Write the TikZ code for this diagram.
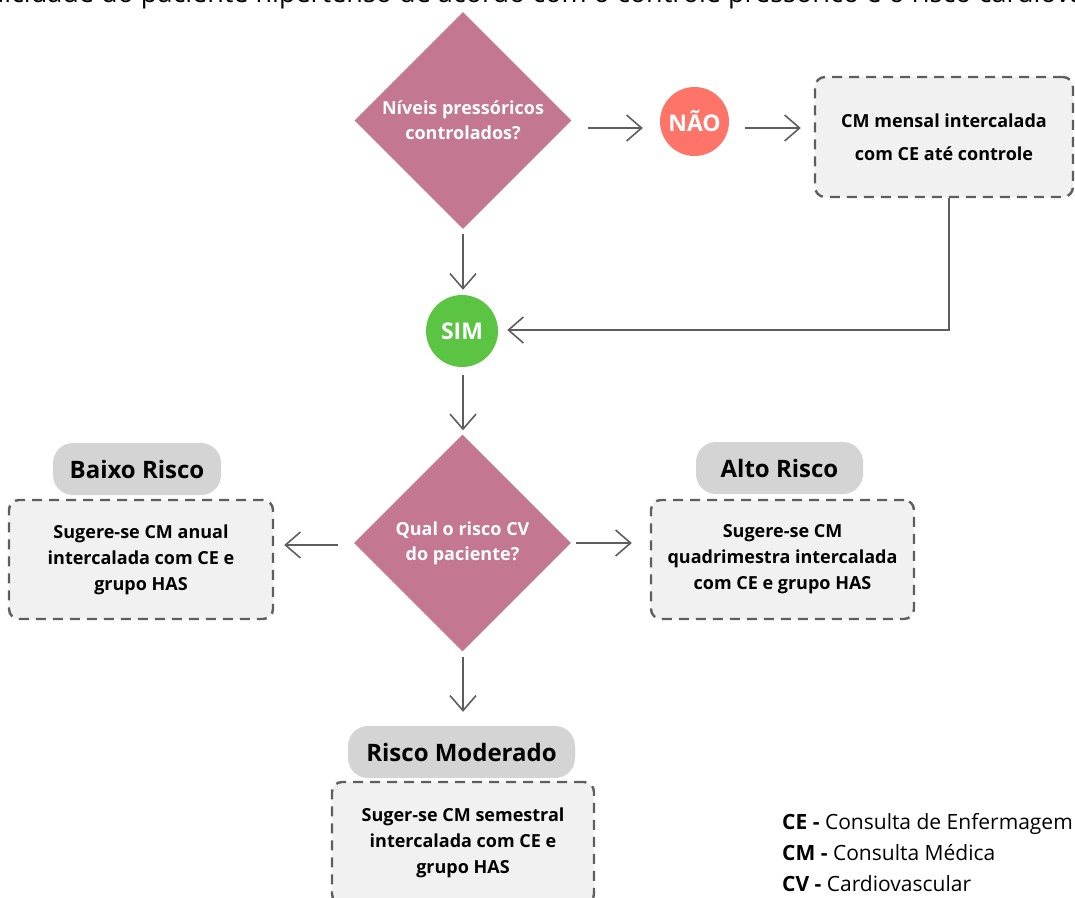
\documentclass[tikz,border=0pt]{standalone}
\usepackage{fontspec}
\setmainfont{Open Sans}
\usetikzlibrary{arrows.meta,positioning,shapes.geometric,calc}

\definecolor{rosa}{HTML}{C47790}
\definecolor{vermelho}{HTML}{FF7468}
\definecolor{verde}{HTML}{5BC443}
\definecolor{cinzaclaro}{HTML}{F1F1F1}
\definecolor{cinzaborda}{HTML}{5E5E5E}
\definecolor{cinzapilula}{HTML}{D4D4D4}
\definecolor{cinzaseta}{HTML}{5E5E5E}

\tikzset{
  pergunta/.style={diamond, fill=rosa, text=white, minimum width=217pt, minimum height=217pt,
    inner sep=0pt, align=center, font=\bfseries\fontsize{18}{25}\selectfont},
  resposta/.style={circle, text=white, inner sep=0pt, font=\bfseries\fontsize{23}{28}\selectfont},
  caixa/.style={draw=cinzaborda, fill=cinzaclaro, line width=2.4pt, dash pattern=on 10pt off 7pt,
    rounded corners=10pt, align=center, font=\bfseries\fontsize{18}{26}\selectfont},
  risco/.style={fill=cinzapilula, rounded corners=20pt, minimum height=52pt,
    font=\bfseries\fontsize{24}{28}\selectfont},
  seta/.style={draw=cinzaseta, line width=1.6pt, -{Straight Barb[length=15pt,width=26pt]}},
}

\begin{document}
\begin{tikzpicture}[x=1pt,y=-1pt]
\clip (0,0) rectangle (1075,897);
\node[anchor=base west, inner sep=0pt, font=\fontsize{27}{32}\selectfont] (titulo) at (-78,2)
  {Periodicidade do paciente hipertenso de acordo com o controle pressórico e o risco cardiovascular};

\node[pergunta] (p1) at (463,120.5) {Níveis pressóricos\\controlados?};
\node[resposta, fill=vermelho, minimum size=69pt] (nao) at (694.5,121.5) {NÃO};
\node[caixa, minimum width=258pt, minimum height=120pt, font=\bfseries\fontsize{18}{33}\selectfont]
  (mensal) at (944,137) {CM mensal intercalada\\com CE até controle};
\node[resposta, fill=verde, minimum size=72pt] (sim) at (462,331) {SIM};
\node[pergunta] (p2) at (462.5,543) {Qual o risco CV\\do paciente?};

\node[risco, minimum width=168pt] (baixo) at (137,469) {Baixo Risco};
\node[caixa, minimum width=264pt, minimum height=119pt] (cbaixo) at (141,559.5)
  {Sugere-se CM anual\\intercalada com CE e\\grupo HAS};
\node[risco, minimum width=167pt] (alto) at (779.5,468) {Alto Risco};
\node[caixa, minimum width=263pt, minimum height=119pt] (calto) at (782.5,559.5)
  {Sugere-se CM\\quadrimestra intercalada\\com CE e grupo HAS};
\node[risco, minimum width=227pt] (moderado) at (461.5,752) {Risco Moderado};
\node[caixa, minimum width=262pt, minimum height=122pt] (cmoderado) at (463,843)
  {Suger-se CM semestral\\intercalada com CE e\\grupo HAS};

\node[anchor=west, align=left, inner sep=0pt, font=\fontsize{21}{31}\selectfont] (legenda) at (782,853)
  {\textbf{CE -} Consulta de Enfermagem\\\textbf{CM -} Consulta Médica\\\textbf{CV -} Cardiovascular};

\draw[seta] ($(p1.east)+(16,7.5)$) -- ($(nao.west)+(-17,6.5)$);
\draw[seta] ($(nao.east)+(16,6.5)$) -- ($(mensal.west)+(-13,-9)$);
\draw[seta] ($(mensal.south)+(5,0)$) |- ($(sim.east)+(9,-1)$);
\draw[seta] ($(p1.south)+(0,5)$) -- ($(sim.north)+(1,-5)$);
\draw[seta] ($(sim.south)+(1,8)$) -- ($(p2.north)+(0.5,-4)$);
\draw[seta] ($(p2.east)+(5,0)$) -- ($(calto.west |- p2.east)+(-18,0)$);
\draw[seta] ($(p2.west)+(-16,2)$) -- ($(cbaixo.east |- p2.west)+(10,2)$);
\draw[seta] ($(p2.south)+(0.5,5)$) -- ($(moderado.north)+(1.5,-14)$);
\end{tikzpicture}
\end{document}
